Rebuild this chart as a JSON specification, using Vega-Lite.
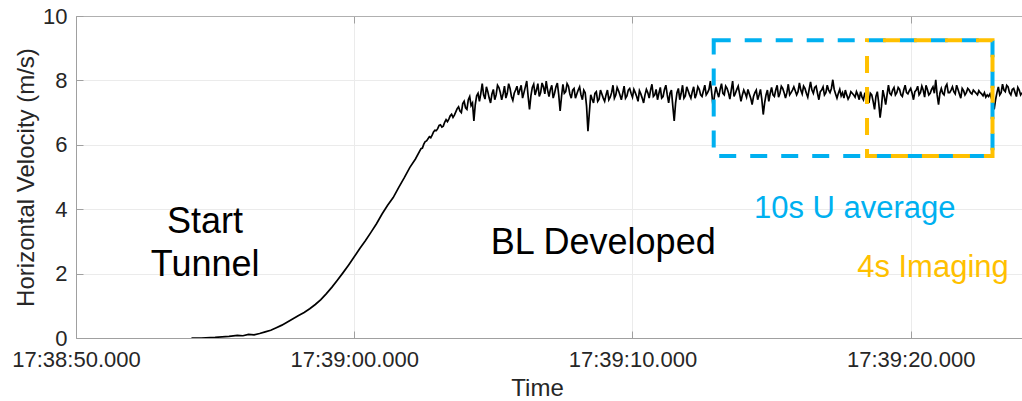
{
  "$schema": "https://vega.github.io/schema/vega-lite/v6.json",
  "autosize": {"type": "none"},
  "padding": {"left": 76, "top": 16, "right": 0, "bottom": 63},
  "width": 946,
  "height": 322,
  "background": "white",
  "config": {
    "font": "Liberation Sans",
    "view": {"stroke": null},
    "axis": {
      "labelFont": "Liberation Sans",
      "titleFont": "Liberation Sans",
      "labelColor": "#262626",
      "titleColor": "#262626",
      "titleFontWeight": "normal",
      "domainColor": "#a0a0a0",
      "tickColor": "#a0a0a0",
      "gridColor": "#ebebeb",
      "gridWidth": 1,
      "labelFlush": false
    }
  },
  "datasets": {
    "vel": [
      {"t":4.15,"v":0.0},{"t":4.5,"v":0.0},{"t":5.0,"v":0.02},{"t":5.5,"v":0.05},{"t":5.8,"v":0.08},{"t":6.0,"v":0.07},{"t":6.2,"v":0.11},{"t":6.4,"v":0.1},{"t":6.6,"v":0.14},{"t":6.8,"v":0.19},{"t":7.0,"v":0.24},{"t":7.2,"v":0.32},{"t":7.4,"v":0.4},{"t":7.6,"v":0.5},{"t":7.8,"v":0.6},{"t":8.0,"v":0.7},{"t":8.2,"v":0.79},{"t":8.4,"v":0.91},{"t":8.6,"v":1.04},{"t":8.8,"v":1.19},{"t":9.0,"v":1.38},{"t":9.2,"v":1.58},{"t":9.4,"v":1.8},{"t":9.6,"v":2.03},{"t":9.8,"v":2.27},{"t":10.0,"v":2.52},{"t":10.2,"v":2.78},{"t":10.4,"v":3.02},{"t":10.6,"v":3.28},{"t":10.8,"v":3.55},{"t":11.0,"v":3.85},{"t":11.2,"v":4.12},{"t":11.4,"v":4.36},{"t":11.6,"v":4.68},{"t":11.8,"v":4.98},{"t":12.0,"v":5.3},{"t":12.2,"v":5.56},{"t":12.4,"v":5.88},{"t":12.6,"v":6.12},{"t":12.7,"v":6.25},{"t":12.8,"v":6.3},{"t":12.9,"v":6.45},{"t":13.0,"v":6.5},{"t":13.1,"v":6.62},{"t":13.2,"v":6.58},{"t":13.3,"v":6.78},{"t":13.4,"v":6.8},{"t":13.5,"v":6.95},{"t":13.6,"v":6.92},{"t":13.7,"v":7.12},{"t":13.8,"v":7.05},{"t":13.9,"v":7.28},{"t":14.0,"v":7.15},{"t":14.1,"v":7.4},{"t":14.2,"v":7.22},{"t":14.3,"v":6.74},{"t":14.4,"v":7.52},{"t":14.5,"v":7.35},
      {"t":14.6,"v":7.9},{"t":14.7,"v":7.42},{"t":14.8,"v":7.65},{"t":14.9,"v":7.3},{"t":15.0,"v":7.72},{"t":15.1,"v":7.55},{"t":15.2,"v":7.78},{"t":15.3,"v":7.4},{"t":15.4,"v":7.82},{"t":15.5,"v":7.6},{"t":15.6,"v":7.75},{"t":15.7,"v":7.38},{"t":15.8,"v":7.7},{"t":15.9,"v":7.55},{"t":16.0,"v":7.85},{"t":16.1,"v":7.62},{"t":16.2,"v":7.98},{"t":16.3,"v":7.1},{"t":16.4,"v":7.78},{"t":16.5,"v":7.55},{"t":16.6,"v":7.9},{"t":16.7,"v":7.62},{"t":16.8,"v":7.8},{"t":16.9,"v":7.98},{"t":17.0,"v":7.5},{"t":17.1,"v":7.85},{"t":17.2,"v":7.6},{"t":17.3,"v":7.92},{"t":17.4,"v":7.05},{"t":17.5,"v":7.88},{"t":17.6,"v":7.65},{"t":17.7,"v":7.82},{"t":17.8,"v":7.45},{"t":17.9,"v":7.75},{"t":18.0,"v":7.58},{"t":18.1,"v":7.8},{"t":18.2,"v":7.4},{"t":18.3,"v":7.62},{"t":18.4,"v":6.42},{"t":18.5,"v":7.55},{"t":18.6,"v":7.3},{"t":18.7,"v":7.65},{"t":18.8,"v":7.42},{"t":18.9,"v":7.58},{"t":19.0,"v":7.35},{"t":19.1,"v":7.7},{"t":19.2,"v":7.48},{"t":19.3,"v":7.85},{"t":19.4,"v":7.55},{"t":19.5,"v":7.68},{"t":19.6,"v":7.4},{"t":19.7,"v":7.82},{"t":19.8,"v":7.52},{"t":19.9,"v":7.75},{"t":20.0,"v":7.48},{"t":20.1,"v":7.62},{"t":20.2,"v":7.35},{"t":20.3,"v":7.58},{"t":20.4,"v":7.3},{"t":20.5,"v":7.72},{"t":20.6,"v":7.45},{"t":20.7,"v":7.88},{"t":20.8,"v":7.55},{"t":20.9,"v":7.4},{"t":21.0,"v":7.78},{"t":21.1,"v":7.5},{"t":21.2,"v":7.85},{"t":21.3,"v":7.3},{"t":21.4,"v":7.7},{"t":21.5,"v":6.74},{"t":21.6,"v":7.62},{"t":21.7,"v":7.4},{"t":21.8,"v":7.85},{"t":21.9,"v":7.52},{"t":22.0,"v":7.68},{"t":22.1,"v":7.45},{"t":22.2,"v":7.8},{"t":22.3,"v":7.58},{"t":22.4,"v":7.72},{"t":22.5,"v":7.5},{"t":22.6,"v":7.85},{"t":22.7,"v":7.62},{"t":22.8,"v":7.98},{"t":22.9,"v":7.16},{"t":23.0,"v":7.8},{"t":23.1,"v":7.48},{"t":23.2,"v":7.9},{"t":23.3,"v":7.55},{"t":23.4,"v":7.75},{"t":23.5,"v":7.42},{"t":23.6,"v":7.98},{"t":23.7,"v":7.6},{"t":23.8,"v":7.82},{"t":23.9,"v":7.35},{"t":24.0,"v":7.7},{"t":24.1,"v":7.48},{"t":24.2,"v":7.58},{"t":24.3,"v":7.25},{"t":24.4,"v":7.62},{"t":24.5,"v":7.4},{"t":24.6,"v":7.72},{"t":24.7,"v":6.94},{"t":24.8,"v":7.55},{"t":24.9,"v":7.35},{"t":25.0,"v":7.78},{"t":25.1,"v":7.5},{"t":25.2,"v":7.85},{"t":25.3,"v":7.6},{"t":25.4,"v":7.75},{"t":25.5,"v":7.45},{"t":25.6,"v":7.88},{"t":25.7,"v":7.62},{"t":25.8,"v":7.8},{"t":25.9,"v":7.55},{"t":26.0,"v":7.92},{"t":26.1,"v":7.58},{"t":26.2,"v":7.75},{"t":26.3,"v":7.48},{"t":26.4,"v":7.95},{"t":26.5,"v":7.6},{"t":26.6,"v":7.82},{"t":26.7,"v":7.4},{"t":26.8,"v":7.7},{"t":26.9,"v":7.55},{"t":27.0,"v":7.85},{"t":27.1,"v":7.62},{"t":27.2,"v":8.02},{"t":27.3,"v":7.58},{"t":27.4,"v":7.6},{"t":27.5,"v":7.52},{"t":27.6,"v":7.45},{"t":27.7,"v":7.55},{"t":27.8,"v":7.5},{"t":27.9,"v":7.6},{"t":28.0,"v":7.48},{"t":28.1,"v":7.55},{"t":28.2,"v":7.65},{"t":28.3,"v":7.4},{"t":28.4,"v":7.62},{"t":28.5,"v":7.3},{"t":28.6,"v":7.55},{"t":28.7,"v":7.1},{"t":28.8,"v":7.65},{"t":28.9,"v":6.84},{"t":29.0,"v":7.7},{"t":29.1,"v":7.25},{"t":29.2,"v":7.85},{"t":29.3,"v":7.55},{"t":29.4,"v":7.78},{"t":29.5,"v":7.62},{"t":29.6,"v":7.72},{"t":29.7,"v":7.5},{"t":29.8,"v":7.85},{"t":29.9,"v":7.58},{"t":30.0,"v":7.75},{"t":30.1,"v":7.4},{"t":30.2,"v":7.7},{"t":30.3,"v":7.55},{"t":30.4,"v":7.82},{"t":30.5,"v":7.48},{"t":30.6,"v":7.72},{"t":30.7,"v":7.6},{"t":30.8,"v":7.8},{"t":30.9,"v":8.02},{"t":31.0,"v":7.25},{"t":31.1,"v":7.75},{"t":31.2,"v":7.55},{"t":31.3,"v":7.88},{"t":31.4,"v":7.62},{"t":31.5,"v":7.8},{"t":31.6,"v":7.58},{"t":31.7,"v":7.72},{"t":31.8,"v":7.45},{"t":31.9,"v":7.68},{"t":32.0,"v":7.62},{"t":32.1,"v":7.7},{"t":32.2,"v":7.58},{"t":32.3,"v":7.65},{"t":32.4,"v":7.55},{"t":32.5,"v":7.62},{"t":32.6,"v":7.52},{"t":32.7,"v":7.48},{"t":32.8,"v":7.5},{"t":32.9,"v":7.45},{"t":33.0,"v":7.1},{"t":33.1,"v":7.62},{"t":33.2,"v":7.55},{"t":33.3,"v":7.88},{"t":33.4,"v":7.65},{"t":33.5,"v":7.8},{"t":33.6,"v":7.55},{"t":33.7,"v":7.75},{"t":33.8,"v":7.5},{"t":33.9,"v":7.7},{"t":34.0,"v":7.62},
      {"t":14.55,"v":7.6},{"t":14.65,"v":7.55},{"t":14.75,"v":7.8},{"t":14.85,"v":7.45},{"t":14.95,"v":7.58},{"t":15.05,"v":7.4},{"t":15.15,"v":7.85},{"t":15.25,"v":7.62},{"t":15.35,"v":7.58},{"t":15.45,"v":7.45},{"t":15.55,"v":7.9},{"t":15.65,"v":7.5},{"t":15.75,"v":7.6},{"t":15.85,"v":7.82},{"t":15.95,"v":7.7},{"t":16.05,"v":7.45},{"t":16.15,"v":7.8},{"t":16.25,"v":7.5},{"t":16.35,"v":7.52},{"t":16.45,"v":7.88},{"t":16.55,"v":7.7},{"t":16.65,"v":7.5},{"t":16.75,"v":7.92},{"t":16.85,"v":7.58},{"t":16.95,"v":7.7},{"t":17.05,"v":7.72},{"t":17.15,"v":7.45},{"t":17.25,"v":7.8},{"t":17.35,"v":7.55},{"t":17.45,"v":7.5},{"t":17.55,"v":7.6},{"t":17.65,"v":7.9},{"t":17.75,"v":7.58},{"t":17.85,"v":7.7},{"t":17.95,"v":7.45},{"t":18.05,"v":7.7},{"t":18.15,"v":7.55},{"t":18.25,"v":7.7},{"t":18.35,"v":7.2},{"t":18.45,"v":7.0},{"t":18.55,"v":7.42},{"t":18.65,"v":7.6},{"t":18.75,"v":7.35},{"t":18.85,"v":7.7},{"t":18.95,"v":7.45},{"t":19.05,"v":7.55},{"t":19.15,"v":7.4},{"t":19.25,"v":7.62},{"t":19.35,"v":7.45},{"t":19.45,"v":7.78},{"t":19.55,"v":7.55},{"t":19.65,"v":7.6},{"t":19.75,"v":7.45},{"t":19.85,"v":7.7},{"t":19.95,"v":7.6},{"t":20.05,"v":7.72},{"t":20.15,"v":7.5},{"t":20.25,"v":7.68},{"t":20.35,"v":7.45},{"t":20.45,"v":7.55},{"t":20.55,"v":7.62},{"t":20.65,"v":7.7},{"t":20.75,"v":7.5},{"t":20.85,"v":7.72},{"t":20.95,"v":7.6},{"t":21.05,"v":7.45},{"t":21.15,"v":7.72},{"t":21.25,"v":7.55},{"t":21.35,"v":7.6},{"t":21.45,"v":7.2},{"t":21.55,"v":7.3},{"t":21.65,"v":7.75},{"t":21.75,"v":7.6},{"t":21.85,"v":7.45},{"t":21.95,"v":7.8},{"t":22.05,"v":7.55},{"t":22.15,"v":7.65},{"t":22.25,"v":7.45},{"t":22.35,"v":7.8},{"t":22.45,"v":7.55},{"t":22.55,"v":7.68},{"t":22.65,"v":7.55},{"t":22.75,"v":7.72},{"t":22.85,"v":7.6},{"t":22.95,"v":7.55},{"t":23.05,"v":7.62},{"t":23.15,"v":7.72},{"t":23.25,"v":7.6},{"t":23.35,"v":7.82},{"t":23.45,"v":7.62},{"t":23.55,"v":7.7},{"t":23.65,"v":7.5},{"t":23.75,"v":7.72},{"t":23.85,"v":7.58},{"t":23.95,"v":7.55},{"t":24.05,"v":7.6},{"t":24.15,"v":7.72},{"t":24.25,"v":7.45},{"t":24.35,"v":7.5},{"t":24.45,"v":7.7},{"t":24.55,"v":7.55},{"t":24.65,"v":7.4},{"t":24.75,"v":7.3},{"t":24.85,"v":7.7},{"t":24.95,"v":7.6},{"t":25.05,"v":7.55},{"t":25.15,"v":7.7},{"t":25.25,"v":7.48},{"t":25.35,"v":7.82},{"t":25.45,"v":7.62},{"t":25.55,"v":7.62},{"t":25.65,"v":7.55},{"t":25.75,"v":7.7},{"t":25.85,"v":7.68},{"t":25.95,"v":7.65},{"t":26.05,"v":7.7},{"t":26.15,"v":7.82},{"t":26.25,"v":7.6},{"t":26.35,"v":7.72},{"t":26.45,"v":7.7},{"t":26.55,"v":7.78},{"t":26.65,"v":7.6},{"t":26.75,"v":7.65},{"t":26.85,"v":7.8},{"t":26.95,"v":7.62},{"t":27.05,"v":7.7},{"t":27.15,"v":7.75},{"t":27.25,"v":7.72},{"t":27.35,"v":7.45},{"t":27.45,"v":7.72},{"t":27.55,"v":7.62},{"t":27.65,"v":7.7},{"t":27.75,"v":7.42},{"t":27.85,"v":7.65},{"t":27.95,"v":7.55},{"t":28.05,"v":7.65},{"t":28.15,"v":7.4},{"t":28.25,"v":7.48},{"t":28.35,"v":7.6},{"t":28.45,"v":7.45},{"t":28.55,"v":7.6},{"t":28.65,"v":7.35},{"t":28.75,"v":7.5},{"t":28.85,"v":7.3},{"t":28.95,"v":7.2},{"t":29.05,"v":7.5},{"t":29.15,"v":7.55},{"t":29.25,"v":7.6},{"t":29.35,"v":7.7},{"t":29.45,"v":7.55},{"t":29.55,"v":7.78},{"t":29.65,"v":7.55},{"t":29.75,"v":7.7},{"t":29.85,"v":7.62},{"t":29.95,"v":7.68},{"t":30.05,"v":7.6},{"t":30.15,"v":7.65},{"t":30.25,"v":7.82},{"t":30.35,"v":7.62},{"t":30.45,"v":7.7},{"t":30.55,"v":7.85},{"t":30.65,"v":7.55},{"t":30.75,"v":7.72},{"t":30.85,"v":7.6},{"t":30.95,"v":7.55},{"t":31.05,"v":7.6},{"t":31.15,"v":7.6},{"t":31.25,"v":7.8},{"t":31.35,"v":7.62},{"t":31.45,"v":7.7},{"t":31.55,"v":7.65},{"t":31.65,"v":7.85},{"t":31.75,"v":7.58},{"t":31.85,"v":7.75},{"t":31.95,"v":7.55},{"t":32.05,"v":7.75},{"t":32.15,"v":7.62},{"t":32.25,"v":7.7},{"t":32.35,"v":7.6},{"t":32.45,"v":7.68},{"t":32.55,"v":7.58},{"t":32.65,"v":7.62},{"t":32.75,"v":7.55},{"t":32.85,"v":7.58},{"t":32.95,"v":7.35},{"t":33.05,"v":7.4},{"t":33.15,"v":7.8},{"t":33.25,"v":7.62},{"t":33.35,"v":7.7},{"t":33.45,"v":7.85},{"t":33.55,"v":7.62},{"t":33.65,"v":7.72},{"t":33.75,"v":7.62},{"t":33.85,"v":7.78},{"t":33.95,"v":7.55},
      {"t":12.5,"v":6.02},{"t":12.45,"v":5.9},{"t":12.55,"v":6.1},{"t":12.75,"v":6.22},{"t":12.85,"v":6.4},{"t":12.95,"v":6.44},{"t":13.05,"v":6.6},{"t":13.15,"v":6.55},{"t":13.25,"v":6.7},{"t":13.35,"v":6.72},{"t":13.45,"v":6.9},{"t":13.55,"v":6.85},{"t":13.65,"v":7.02},{"t":13.75,"v":7.18},{"t":13.85,"v":7.0},{"t":13.95,"v":7.35},{"t":14.05,"v":7.1},{"t":14.15,"v":7.5},{"t":14.25,"v":7.3},{"t":14.35,"v":7.25},{"t":14.45,"v":7.6}
    ],
    "boxes": [
      {"label":"10s U average","t0":22.92,"t1":32.94,"v0":5.65,"v1":9.25},
      {"label":"4s Imaging","t0":28.43,"t1":32.94,"v0":5.65,"v1":9.25}
    ],
    "notes": [
      {"label":"Start","t":4.64,"v":3.26,"kind":"black"},
      {"label":"Tunnel","t":4.64,"v":1.93,"kind":"black"},
      {"label":"BL Developed","t":18.95,"v":2.6,"kind":"black"},
      {"label":"10s U average","t":27.99,"v":3.73,"kind":"blue"},
      {"label":"4s Imaging","t":30.8,"v":1.9,"kind":"orange"}
    ]
  },
  "resolve": {"axis": {"x": "independent", "y": "independent"}},
  "layer": [
    {
      "data": {"name": "vel"},
      "mark": {"type": "line", "color": "black", "strokeWidth": 1.7, "clip": true},
      "encoding": {
        "x": {
          "field": "t", "type": "quantitative",
          "scale": {"domain": [0, 34], "nice": false, "zero": false},
          "axis": {
            "values": [0, 10, 20, 30],
            "labelExpr": "datum.value==0?'17:38:50.000':datum.value==10?'17:39:00.000':datum.value==20?'17:39:10.000':'17:39:20.000'",
            "labelFontSize": 22, "labelPadding": 18, "tickSize": -7, "labelFlush": false, "labelOverlap": false,
            "title": "Time", "titleFontSize": 24,
            "titleX": 461, "titleY": 57, "titleBaseline": "alphabetic", "titleAnchor": null,
            "grid": true
          }
        },
        "y": {
          "field": "v", "type": "quantitative",
          "scale": {"domain": [0, 10], "nice": false},
          "axis": {
            "values": [0, 2, 4, 6, 8, 10],
            "labelFontSize": 22, "labelPadding": 16, "tickSize": -7, "labelFlush": false,
            "title": "Horizontal Velocity (m/s)", "titleFontSize": 24,
            "titleX": -50, "titleY": 161, "titleBaseline": "middle", "titleAngle": 270,
            "grid": true
          }
        }
      }
    },
    {
      "data": {"name": "boxes"},
      "transform": [{"filter": "datum.label == '10s U average'"}],
      "mark": {"type": "rect", "fill": null, "filled": false, "stroke": "#00B0F0", "strokeWidth": 4, "strokeDash": [17, 14]},
      "encoding": {
        "x": {"field": "t0", "type": "quantitative", "axis": {"orient": "top", "labels": false, "title": null, "grid": false, "values": [0, 10, 20, 30], "tickSize": -7, "domainColor": "#b0b0b0"}},
        "x2": {"field": "t1"},
        "y": {"field": "v1", "type": "quantitative", "axis": null},
        "y2": {"field": "v0"}
      }
    },
    {
      "data": {"name": "boxes"},
      "transform": [{"filter": "datum.label == '4s Imaging'"}],
      "mark": {"type": "rect", "fill": null, "filled": false, "stroke": "#FFC000", "strokeWidth": 4, "strokeDash": [17, 14], "strokeDashOffset": 15},
      "encoding": {
        "x": {"field": "t0", "type": "quantitative", "axis": null},
        "x2": {"field": "t1"},
        "y": {"field": "v1", "type": "quantitative", "axis": null},
        "y2": {"field": "v0"}
      }
    },
    {
      "data": {"name": "notes"},
      "transform": [{"filter": "datum.kind == 'black'"}],
      "mark": {"type": "text", "fontSize": 36, "color": "black", "align": "center", "baseline": "alphabetic"},
      "encoding": {
        "x": {"field": "t", "type": "quantitative", "axis": null},
        "y": {"field": "v", "type": "quantitative", "axis": null},
        "text": {"field": "label"}
      }
    },
    {
      "data": {"name": "notes"},
      "transform": [{"filter": "datum.kind == 'blue'"}],
      "mark": {"type": "text", "fontSize": 31, "color": "#00B0F0", "align": "center", "baseline": "alphabetic"},
      "encoding": {
        "x": {"field": "t", "type": "quantitative", "axis": null},
        "y": {"field": "v", "type": "quantitative", "axis": null},
        "text": {"field": "label"}
      }
    },
    {
      "data": {"name": "notes"},
      "transform": [{"filter": "datum.kind == 'orange'"}],
      "mark": {"type": "text", "fontSize": 31, "color": "#FFC000", "align": "center", "baseline": "alphabetic"},
      "encoding": {
        "x": {"field": "t", "type": "quantitative", "axis": null},
        "y": {"field": "v", "type": "quantitative", "axis": null},
        "text": {"field": "label"}
      }
    }
  ]
}
